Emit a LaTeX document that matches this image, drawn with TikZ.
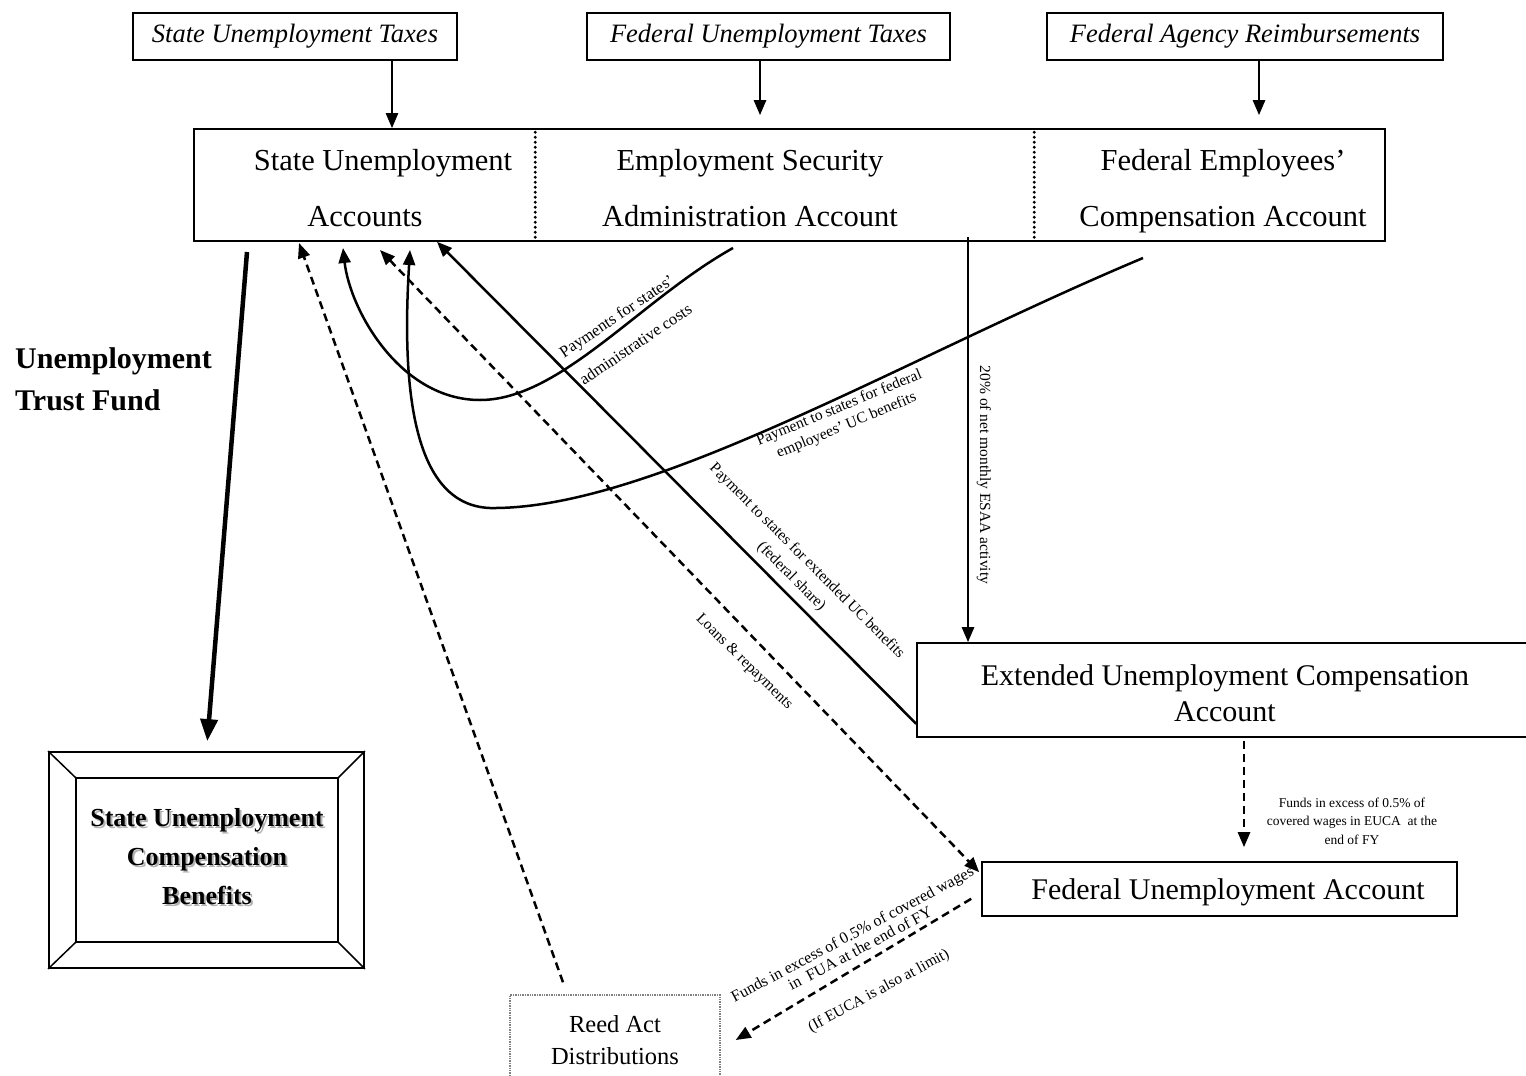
\documentclass[tikz,border=0pt]{standalone}
\usepackage{fontspec}
\setmainfont{Liberation Serif}
\usetikzlibrary{arrows.meta,calc}
\begin{document}
\begin{tikzpicture}[x=1pt,y=-1pt,
  box/.style={draw, line width=1.6pt, rectangle, inner sep=0pt},
  srcbox/.style={box, font=\fontsize{26.5}{30}\selectfont\itshape},
  acct/.style={font=\fontsize{30.5}{56}\selectfont, align=center, inner sep=0pt},
  big/.style={font=\fontsize{30}{36}\selectfont, align=center, inner sep=0pt},
  lbl/.style={font=\fontsize{15.5}{20}\selectfont, align=center, inner sep=0pt},
  small/.style={font=\fontsize{13.5}{18.5}\selectfont, align=center, inner sep=0pt},
  arr/.style={line width=2.5pt, -{Triangle[length=15pt,width=12pt]}},
  dsh/.style={arr, dash pattern=on 8pt off 5pt},
  dotsep/.style={line width=3.2pt, line cap=round, dash pattern=on 0pt off 5pt},
]
\useasboundingbox (0,0) rectangle (1526,1076);
\fill[white] (0,0) rectangle (1526,1076);

% source boxes
\node[srcbox, minimum width=324pt, minimum height=47pt] (sut) at (295,36.5) {State Unemployment Taxes};
\node[srcbox, minimum width=363pt, minimum height=47pt] (fut) at (768.5,36.5) {Federal Unemployment Taxes};
\node[srcbox, minimum width=396pt, minimum height=47pt] (far) at (1245,36.5) {Federal Agency Reimbursements};

% trust fund box
\node[box, minimum width=1191pt, minimum height=112pt] (trust) at (789.5,185) {};
\draw[dotsep] ($(trust.north west)+(342,4)$) -- ($(trust.south west)+(342,-4)$);
\draw[dotsep] ($(trust.north west)+(841,4)$) -- ($(trust.south west)+(841,-4)$);
\node[acct] (sua) at (383,188) {State Unemployment\\Accounts\rule{36pt}{0pt}};
\node[acct] (esaa) at (750,188) {Employment Security\\Administration Account};
\node[acct] (feca) at (1223,191) {Federal Employees'\\Compensation Account};

\node[font=\fontsize{30}{42}\selectfont\bfseries, align=left, anchor=west, inner sep=0pt] (utf) at (15,379) {Unemployment\\Trust Fund};

% benefits box
\node[draw, line width=1.8pt, minimum width=315pt, minimum height=216pt, inner sep=0pt] (ben) at (206.5,860) {};
\draw[line width=1.8pt] ($(ben.north west)+(28,27)$) rectangle ($(ben.south east)+(-27,-27)$);
\draw[line width=1.5pt] (ben.north west) -- ($(ben.north west)+(28,27)$);
\draw[line width=1.5pt] (ben.north east) -- ($(ben.north east)+(-27,27)$);
\draw[line width=1.5pt] (ben.south west) -- ($(ben.south west)+(28,-27)$);
\draw[line width=1.5pt] (ben.south east) -- ($(ben.south east)+(-27,-27)$);
\node[font=\fontsize{26}{39}\selectfont\bfseries, align=center, inner sep=0pt, text=gray!60] (bensh) at (209,859) {State Unemployment\\Compensation\\Benefits};
\node[font=\fontsize{26}{39}\selectfont\bfseries, align=center, inner sep=0pt] (bentxt) at (207,857) {State Unemployment\\Compensation\\Benefits};

% EUCA box
\node[box, minimum width=623pt, minimum height=94pt] (euca) at (1228.5,690) {};
\node[big] (eucatxt) at (1225,693) {Extended Unemployment Compensation\\Account};

% FUA box
\node[box, minimum width=475pt, minimum height=54pt] (fua) at (1219.5,889) {};
\node[big] (fuatxt) at (1228,892) {Federal Unemployment Account};

% Reed Act box
\node[draw=gray, line width=1.4pt, densely dotted, minimum width=210pt, minimum height=105pt, inner sep=0pt] (reed) at (615,1047.5) {};
\node[font=\fontsize{24.5}{32}\selectfont, align=center, inner sep=0pt] (reedtxt) at (615,1040) {Reed Act\\Distributions};

% helper x-coordinates
\coordinate (x1) at (392,0);
\coordinate (x2) at (760,0);
\coordinate (x3) at (1259,0);
\coordinate (x4) at (968,0);
\coordinate (x5) at (437,0);
\coordinate (x10) at (1244,0);

% arrows from sources
\draw[arr] (sut.south -| x1) -- (trust.north -| x1);
\draw[arr, shorten >=13pt] (fut.south -| x2) -- (trust.north -| x2);
\draw[arr, shorten >=13pt] (far.south -| x3) -- (trust.north -| x3);

% thick arrow to benefits
\coordinate (tfA) at (247,252);
\draw[line width=4.5pt, -{Triangle[length=22pt,width=17pt]}, shorten >=10pt] (tfA) -- (ben.north);

% 20% arrow
\draw[arr] ($(trust.south -| x4)+(0,-5)$) -- (euca.north -| x4);
\node[lbl, rotate=-90] (l20) at (984,475) {20\% of net monthly ESAA activity};

% extended UC benefits payment
\draw[arr] ($(euca.south west)+(0,-14)$) -- (trust.south -| x5);
\node[lbl, font=\fontsize{15.5}{22}\selectfont, rotate=-45] (lext) at (799,569) {Payment to states for extended UC benefits\\(federal share)};

% admin costs curve
\coordinate (cA0) at (733,248);
\coordinate (cA1) at (343,248);
\draw[arr] (cA0) .. controls (640,300) and (560,400) .. (480,400) .. controls (400,400) and (350,310) .. (cA1);
\node[lbl, font=\fontsize{16.5}{34}\selectfont, rotate=34] (ladm) at (626,330) {Payments for states'\\administrative costs};

% federal employees curve
\coordinate (cB0) at (1143,258);
\coordinate (cB1) at (410,250);
\draw[arr] (cB0) .. controls (900,360) and (650,510) .. (490,508) .. controls (410,505) and (402,380) .. (cB1);
\node[lbl, font=\fontsize{15.5}{19}\selectfont, rotate=22.5] (lfed) at (843,417) {Payment to states for federal\\employees' UC benefits};

% Reed Act to state accounts
\coordinate (rA) at (299,243);
\draw[dsh] ($(reed.north)+(-52,-12)$) -- (rA);

% loans & repayments
\coordinate (lA) at (380,250);
\draw[dsh, {Triangle[length=15pt,width=12pt]}-{Triangle[length=15pt,width=12pt]}] (lA) -- ($(fua.north west)+(-2,11)$);
\node[lbl, rotate=-44.5] (lloan) at (744,662) {Loans \& repayments};

% EUCA to FUA
\draw[dsh] ($(euca.south -| x10)+(0,3)$) -- ($(fua.north -| x10)+(0,-14)$);
\node[small] (lexc) at (1352,821) {Funds in excess of 0.5\% of\\covered wages in EUCA~ at the\\end of FY};

% FUA to Reed
\draw[dsh] ($(fua.south west)+(-10,-18)$) -- ($(reed.east)+(15,-7.5)$);
\node[lbl, font=\fontsize{16}{16.5}\selectfont, rotate=28] (lfua) at (856,941) {Funds in excess of 0.5\% of covered wages\\in~ FUA at the end of FY};
\node[lbl, rotate=28.5] (lif) at (879,991) {(If EUCA is also at limit)};
\end{tikzpicture}
\end{document}
